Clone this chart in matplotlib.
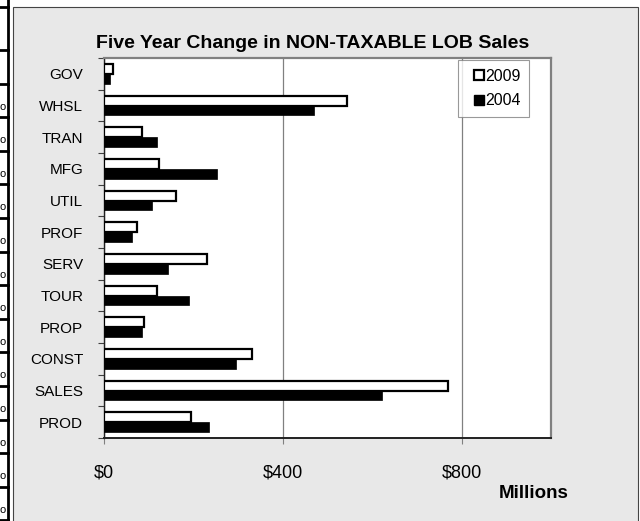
import numpy as np
import matplotlib
matplotlib.use("Agg")
import matplotlib.pyplot as plt
from matplotlib.patches import Rectangle
from matplotlib.lines import Line2D

# data (millions of dollars)
categories = ["GOV", "WHSL", "TRAN", "MFG", "UTIL", "PROF",
              "SERV", "TOUR", "PROP", "CONST", "SALES", "PROD"]
sales_2009 = [20, 544, 84, 123, 162, 73, 230, 118, 90, 330, 769, 194]
sales_2004 = [14, 470, 119, 252, 107, 63, 144, 191, 86, 295, 621, 235]
x_ticks = [0, 400, 800]
x_labels = ["$0", "$400", "$800"]

W, H = 640, 521
plt.rcParams["font.family"] = ["Liberation Sans", "DejaVu Sans"]
fig = plt.figure(figsize=(W / 100, H / 100), dpi=100)
fig.patch.set_facecolor("white")


def fx(px):
    return px / W


def fy(py):
    return 1 - py / H


# bits of the spreadsheet table on the left edge
fig.add_artist(Line2D([fx(8), fx(8)], [fy(0), fy(521)], color="black", lw=2.0))
fig.add_artist(Line2D([fx(0), fx(8)], [fy(7), fy(7)], color="black", lw=2.0))
for k in range(15):
    yy = 50 + 33.6 * k
    fig.add_artist(Line2D([fx(0), fx(8)], [fy(yy), fy(yy)], color="black", lw=2.0))
    if 1 <= k <= 13:
        fig.text(fx(-0.5), fy(yy + 23), "o", ha="left", va="center", fontsize=8)

# chart area
fig.add_artist(Rectangle((fx(13), fy(540)), fx(625), 533 / H,
                         facecolor="#e8e8e8", edgecolor="#444444", lw=0.8,
                         zorder=-1))

ax = fig.add_axes([fx(104), fy(438), fx(447), 380 / H])
ax.set_zorder(2)
ax.set_facecolor("white")

n = len(categories)
y = np.arange(n)
h = 0.306
ax.barh(y - h / 2, sales_2009, height=h, color="white", edgecolor="black",
        linewidth=1.6, zorder=3)
ax.barh(y + h / 2, sales_2004, height=h, color="black", edgecolor="black",
        linewidth=0.5, zorder=3)

ax.set_xlim(0, 1000)
ax.set_ylim(n - 0.5, -0.5)

ax.set_xticks(x_ticks)
ax.set_xticklabels(x_labels, fontsize=13)
ax.tick_params(axis="x", length=4, pad=15, color="#808080")
ax.xaxis.grid(True, color="#808080", lw=0.9)
ax.set_axisbelow(True)

ax.set_yticks(np.arange(n + 1) - 0.5)
ax.set_yticklabels([])
ax.set_yticks(y, minor=True)
ax.set_yticklabels(categories, minor=True, fontsize=11)
ax.tick_params(axis="y", which="major", length=4, color="#404040")
ax.tick_params(axis="y", which="minor", length=0, pad=15)

for side in ["top", "right"]:
    ax.spines[side].set_color("#808080")
    ax.spines[side].set_linewidth(1.6)
ax.spines["left"].set_color("#202020")
ax.spines["bottom"].set_color("#202020")
ax.spines["left"].set_linewidth(1.0)
ax.spines["bottom"].set_linewidth(1.4)

fig.text(fx(313), fy(44), "Five Year Change in NON-TAXABLE LOB Sales",
         ha="center", va="center", fontsize=14, fontweight="bold")
fig.text(fx(534), fy(493), "Millions", ha="center", va="center",
         fontsize=13.5, fontweight="bold")

handles = [Line2D([], [], ls="none", marker="s", markersize=6.5,
                  markerfacecolor="white", markeredgecolor="black",
                  markeredgewidth=1.6),
           Line2D([], [], ls="none", marker="s", markersize=7,
                  markerfacecolor="black", markeredgecolor="black")]
leg = ax.legend(handles, ["2009", "2004"],
                loc="upper left", bbox_to_anchor=((458 - 104) / 447, 1 - 2 / 380),
                fontsize=11.5, frameon=True, fancybox=False, handlelength=1.5,
                handletextpad=-0.35, borderpad=0.55, labelspacing=0.6,
                borderaxespad=0)
leg.get_frame().set_edgecolor("#808080")
leg.get_frame().set_linewidth(0.8)

fig.savefig("out.png", dpi=100)
